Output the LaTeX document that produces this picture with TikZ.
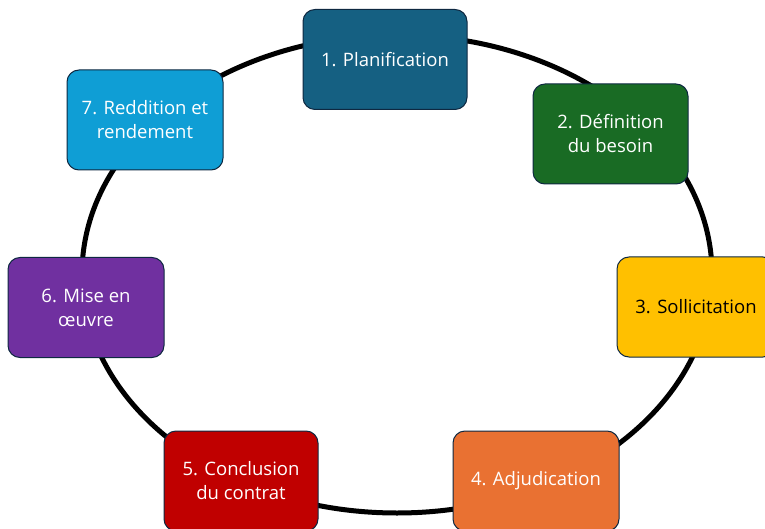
\documentclass[tikz,border=0pt]{standalone}
\usepackage{fontspec}
\setmainfont{Open Sans}
\usetikzlibrary{positioning}
\definecolor{edgenavy}{HTML}{0E2841}
\definecolor{planblue}{HTML}{156082}
\definecolor{needgreen}{HTML}{196B24}
\definecolor{bidyellow}{HTML}{FFC000}
\definecolor{awardorange}{HTML}{E97132}
\definecolor{dealred}{HTML}{C00000}
\definecolor{runpurple}{HTML}{7030A0}
\definecolor{reportblue}{HTML}{0F9ED5}

\begin{document}
\begin{tikzpicture}[x=1pt, y=-1pt,
font=\fontsize{18.5}{24}\selectfont,
phase/.style={draw=edgenavy, line width=1pt, rounded corners=12pt,
  minimum height=100pt, inner sep=0pt, align=center, text=white},
cycleline/.style={line width=5pt, black}
]
\useasboundingbox (0,0) rectangle (765,529);

% the cycle behind the phases
\draw[cycleline] (397,274) ellipse [x radius=315, y radius=239];

\node[phase, fill=planblue, minimum width=164pt] (plan) at (385,59.5) {1. Planification};
\node[phase, fill=needgreen, minimum width=155pt] (need) at (610.5,134) {2. Définition\\du besoin};
\node[phase, fill=bidyellow, minimum width=158pt, text=black] (bid) at (696,307) {3. Sollicitation};
\node[phase, fill=awardorange, minimum width=166pt] (award) at (536,481) {4. Adjudication};
\node[phase, fill=dealred, minimum width=154pt] (deal) at (241,481) {5. Conclusion\\du contrat};
\node[phase, fill=runpurple, minimum width=156pt] (run) at (86,307.5) {6. Mise en\\œuvre};
\node[phase, fill=reportblue, minimum width=156pt] (report) at (145,120) {7. Reddition et\\rendement};

\end{tikzpicture}
\end{document}
